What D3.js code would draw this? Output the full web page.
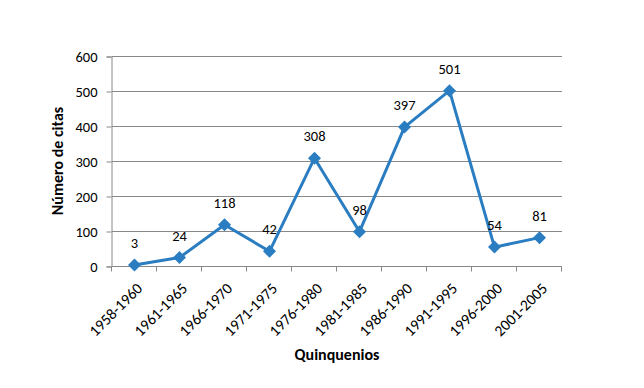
<!DOCTYPE html>
<html>
<head>
<meta charset="utf-8">
<script src="https://cdn.jsdelivr.net/npm/d3@7"></script>
<style>
  body { margin: 0; background: #fff; }
  svg text { font-family: Carlito, Lato, "Open Sans", sans-serif; fill: #000; }
</style>
</head>
<body>
<div id="chart"></div>
<script>
const categories = ["1958-1960", "1961-1965", "1966-1970", "1971-1975", "1976-1980", "1981-1985", "1986-1990", "1991-1995", "1996-2000", "2001-2005"];
const citas = [3, 24, 118, 42, 308, 98, 397, 501, 54, 81];
const yTicks = [0, 100, 200, 300, 400, 500, 600];

const [width, height] = [644, 388];
const m = { top: 56, right: 82, bottom: 122, left: 112 };
const lineColor = "#2a7dc0";

const svg = d3.select("#chart").append("svg").attr("width", width).attr("height", height);

const x = d3.scaleBand().domain(categories).range([m.left, width - m.right]);
const y = d3.scaleLinear().domain([0, 600]).range([height - m.bottom, m.top]);

// gridlines
svg.append("g").selectAll("line").data(yTicks.slice(1)).enter().append("line")
  .attr("x1", m.left).attr("x2", width - m.right)
  .attr("y1", d => y(d) + 0.5).attr("y2", d => y(d) + 0.5)
  .attr("stroke", "#888").attr("stroke-width", 1);

// y axis
const yAxis = svg.append("g").attr("transform", `translate(${m.left - 0.5},0.5)`)
  .call(d3.axisLeft(y).tickValues(yTicks).tickSize(5).tickPadding(9));
yAxis.select(".domain").attr("stroke", "#888");
yAxis.selectAll(".tick line").attr("stroke", "#888");
yAxis.selectAll("text").style("font-size", "14.5px");

// x axis
const xAxis = svg.append("g").attr("transform", `translate(0,${y(0) + 0.5})`);
xAxis.append("line").attr("x1", m.left).attr("x2", width - m.right).attr("stroke", "#888");
xAxis.selectAll(".xt").data(categories.concat([null])).enter().append("line")
  .attr("x1", (d, i) => Math.round(m.left + i * x.step()) - 0.5)
  .attr("x2", (d, i) => Math.round(m.left + i * x.step()) - 0.5)
  .attr("y1", 0).attr("y2", 5).attr("stroke", "#888");
xAxis.selectAll("text").data(categories).enter().append("text")
  .attr("transform", d => `translate(${x(d) + x.bandwidth() / 2 + 5},${19}) rotate(-45)`)
  .attr("text-anchor", "end")
  .attr("dy", "0.35em")
  .style("font-size", "15.5px")
  .text(d => d);

// line
const pts = categories.map((c, i) => ({ c: c, v: citas[i] }));
svg.append("path").datum(pts)
  .attr("fill", "none").attr("stroke", lineColor).attr("stroke-width", 3)
  .attr("stroke-linejoin", "round")
  .attr("d", d3.line().x(d => x(d.c) + x.bandwidth() / 2).y(d => y(d.v)));

// diamond markers
svg.append("g").selectAll("path").data(pts).enter().append("path")
  .attr("transform", d => `translate(${x(d.c) + x.bandwidth() / 2},${y(d.v)})`)
  .attr("d", "M0,-6.5L6.5,0L0,6.5L-6.5,0Z")
  .attr("fill", lineColor);

// data labels
svg.append("g").selectAll("text").data(pts).enter().append("text")
  .attr("x", d => x(d.c) + x.bandwidth() / 2)
  .attr("y", d => y(d.v) - 17)
  .attr("text-anchor", "middle")
  .style("font-size", "14.5px")
  .text(d => d.v);

// axis titles
svg.append("text")
  .attr("transform", `translate(63,${(m.top + height - m.bottom) / 2}) rotate(-90)`)
  .attr("text-anchor", "middle")
  .style("font-size", "16px").style("font-weight", "bold")
  .text("Número de citas");

svg.append("text")
  .attr("x", 337).attr("y", 360)
  .attr("text-anchor", "middle")
  .style("font-size", "16px").style("font-weight", "bold")
  .text("Quinquenios");
</script>
</body>
</html>
